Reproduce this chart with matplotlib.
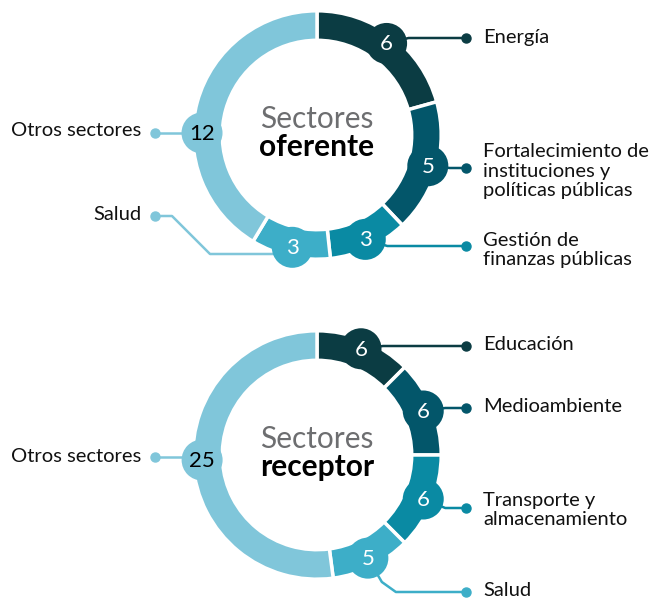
import numpy as np
import matplotlib
matplotlib.use("Agg")
import matplotlib.pyplot as plt

# ---------------- data ----------------
top_labels = ["Energía", "Fortalecimiento de\ninstituciones y\npolíticas públicas",
              "Gestión de\nfinanzas públicas", "Salud", "Otros sectores"]
top_values = [6, 5, 3, 3, 12]
top_title = ["Sectores", "oferente"]

bot_labels = ["Educación", "Medioambiente", "Transporte y\nalmacenamiento",
              "Salud", "Otros sectores"]
bot_values = [6, 6, 6, 5, 25]
bot_title = ["Sectores", "receptor"]

colors = ["#0b3c43", "#03566a", "#0a8aa3", "#3daec8", "#80c6da"]
num_colors = ["white", "white", "white", "white", "black"]

W, H = 657, 598
FONT = ["Lato", "DejaVu Sans"]
plt.rcParams["font.family"] = FONT

fig = plt.figure(figsize=(W / 100, H / 100), dpi=100)
ax = fig.add_axes([0, 0, 1, 1])

R_OUT, R_W = 124.2, 29.5
BUB_R, BUB_DIST = 20.5, 115
LABEL_FS = 14.5


def py(y):  # pixel-from-top to data y
    return H - y


def donut(cx, cy_pix, values, labels, title, label_specs, other_angle):
    cy = py(cy_pix)
    ax.pie(values, colors=colors, startangle=90, counterclock=False,
           center=(cx, cy), radius=R_OUT,
           wedgeprops=dict(width=R_W, edgecolor="white", linewidth=2.5))
    total = sum(values)
    cum = np.cumsum([0] + list(values))
    for i, v in enumerate(values):
        if i == len(values) - 1:
            cw = other_angle
        else:
            cw = (cum[i] + v / 2) / total * 360
        th = np.deg2rad(90 - cw)
        bx, by = cx + BUB_DIST * np.cos(th), cy + BUB_DIST * np.sin(th)
        ax.add_patch(plt.Circle((bx, by), BUB_R, color=colors[i], zorder=4, lw=0))
        ax.text(bx, by + 1, str(v), ha="center", va="center_baseline",
                fontsize=16, color=num_colors[i], zorder=5)
        spec = label_specs[i]
        lc = spec.get("lc", colors[i])
        dot_y = py(spec["dot_y"])
        if spec["side"] == "right":
            dx = 466
            if spec.get("via"):
                pts = [(bx, by)] + [(bx + ex, py(ey)) for ex, ey in spec["via"]] + [(dx, dot_y)]
            else:
                pts = [(bx, by), (bx + 22, dot_y), (dx, dot_y)]
            xs, ys = zip(*pts)
            ax.plot(xs, ys, color=lc, lw=1.8, zorder=3, solid_joinstyle="round")
            ax.plot([dx], [dot_y], "o", color=lc, ms=6.5, zorder=3)
            ax.text(483, py(spec["text_y"]), labels[i], ha="left", va="center",
                    fontsize=LABEL_FS, color="#111111", linespacing=1.2)
        else:
            dx = 155
            pts = [(dx, dot_y)] + [(x, py(y)) for x, y in spec.get("via", [])] + \
                  [(bx, py(spec.get("end_y", spec["dot_y"])))]
            xs, ys = zip(*pts)
            ax.plot(xs, ys, color=lc, lw=1.8, zorder=3, solid_joinstyle="round")
            ax.plot([dx], [dot_y], "o", color=lc, ms=6.5, zorder=3)
            ax.text(141, py(spec["text_y"]), labels[i], ha="right", va="center",
                    fontsize=LABEL_FS, color="#111111")
    ax.text(cx, cy + 16, title[0], ha="center", va="center", fontsize=21.5,
            color="#6d6e70")
    ax.text(cx, cy - 12, title[1], ha="center", va="center", fontsize=21.5,
            color="black", fontweight="bold")


top_specs = [
    dict(side="right", dot_y=38, text_y=38),
    dict(side="right", dot_y=168, text_y=171),
    dict(side="right", dot_y=246, text_y=250),
    dict(side="left", dot_y=216, text_y=215, via=[(172, 216), (210, 254)], end_y=254,
         lc="#80c6da"),
    dict(side="left", dot_y=133, text_y=131),
]
bot_specs = [
    dict(side="right", dot_y=346, text_y=345),
    dict(side="right", dot_y=408, text_y=406),
    dict(side="right", dot_y=508, text_y=510),
    dict(side="right", dot_y=592, text_y=590, via=[(14, 582), (28, 592)]),
    dict(side="left", dot_y=457, text_y=456),
]

donut(317, 135, top_values, top_labels, top_title, top_specs, 271)
donut(317, 455, bot_values, bot_labels, bot_title, bot_specs, 267.5)

ax.set_xlim(0, W)
ax.set_ylim(0, H)
ax.set_aspect("equal")
ax.axis("off")
fig.savefig("out.png", dpi=100, facecolor="white")
